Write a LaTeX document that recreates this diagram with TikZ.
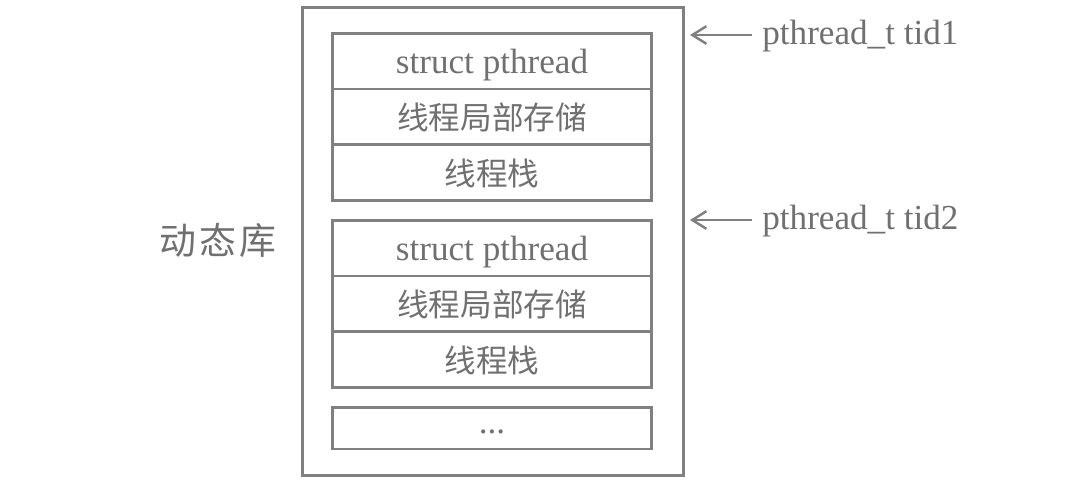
\documentclass[tikz,border=0pt]{standalone}
\usepackage{fontspec}
\setmainfont{Liberation Serif}
\newfontfamily\cjk{Noto Sans CJK SC}
\usetikzlibrary{arrows.meta,positioning}
\definecolor{linegray}{RGB}{128,128,128}
\definecolor{textgray}{RGB}{112,112,112}

\begin{document}
\begin{tikzpicture}[x=0.02cm, y=-0.02cm,
	cell/.style={draw=linegray, line width=1.7pt, rectangle, minimum width=6.4cm,
		minimum height=1.12cm, outer sep=0pt, inner sep=0pt, text=textgray,
		text depth=0pt, font=\fontsize{20}{22}\selectfont},
	cn/.style={font=\cjk\fontsize{18}{20}\selectfont, text depth=, text height=},
	tidlabel/.style={text=textgray, font=\fontsize{20}{22}\selectfont, anchor=base west, inner sep=0pt},
	ptr/.style={draw=linegray, line width=1.4pt, -{Straight Barb[length=8pt, width=10pt]}},
	node distance=0pt]

	% canvas, same size as the reference
	\useasboundingbox (0,0) rectangle (1090,494);

	% outer box: the whole library
	\node[draw=linegray, line width=1.7pt, rectangle, minimum width=7.64cm,
		minimum height=9.38cm, outer sep=0pt] (lib) at (493,241.5) {};
	\node[text=textgray, font=\cjk\fontsize{21}{24}\selectfont] (libname) at (218,240) {动\kern2pt 态\kern2pt 库};

	% one block per thread
	\foreach \g/\yc in {1/61, 2/248} {
		\node[cell] (s\g) at (492,\yc) {struct pthread};
		\node[cell, cn, below=of s\g] (tls\g) {线程局部存储};
		\node[cell, cn, below=of tls\g] (stk\g) {线程栈};
	}
	\node[cell, minimum height=0.84cm] (more) at (492,428) {\raisebox{-3pt}{...}};

	% thread ids point at the blocks
	\node[tidlabel] (tid1) at (762,44) {pthread\_t tid1};
	\node[tidlabel] (tid2) at (762,229) {pthread\_t tid2};
	\coordinate (p1) at (690,35);
	\coordinate (p2) at (690,220);
	\draw[ptr, shorten <=0.2cm] (tid1.west |- p1) -- (p1);
	\draw[ptr, shorten <=0.2cm] (tid2.west |- p2) -- (p2);
\end{tikzpicture}
\end{document}
